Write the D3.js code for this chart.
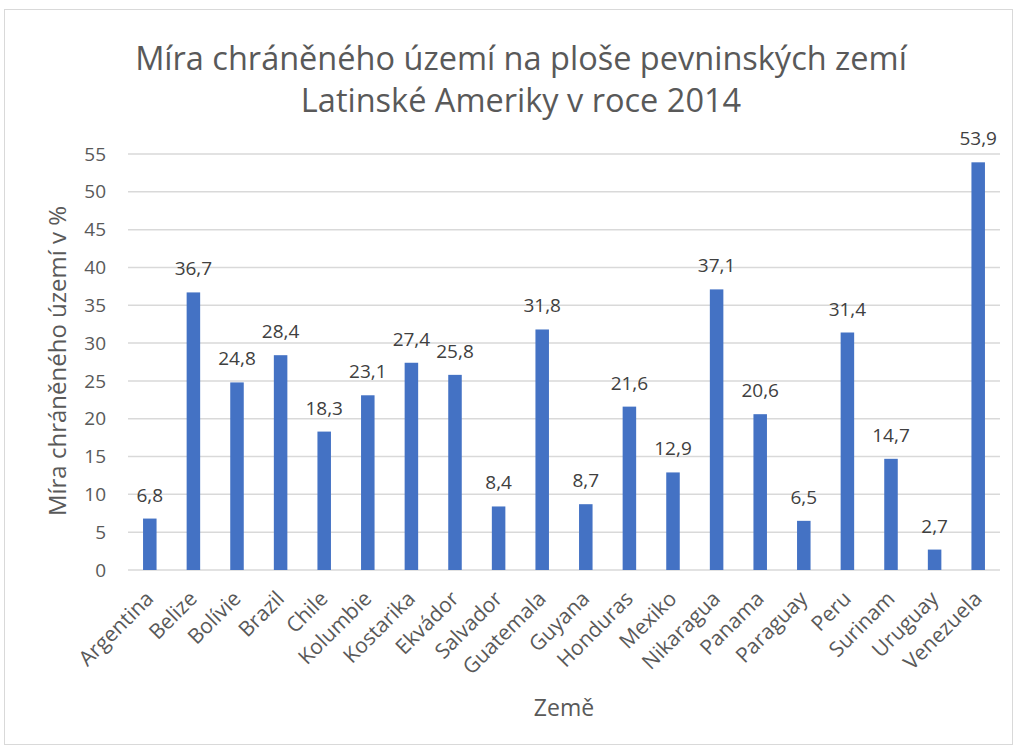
<!DOCTYPE html>
<html><head><meta charset="utf-8">
<script src="https://cdn.jsdelivr.net/npm/d3@7"></script>
<style>body{margin:0;background:#fff;} svg{display:block;font-family:"Open Sans","Noto Sans",sans-serif;}</style>
</head><body>
<script>
const categories = ["Argentina","Belize","Bolívie","Brazil","Chile","Kolumbie","Kostarika","Ekvádor","Salvador","Guatemala","Guyana","Honduras","Mexiko","Nikaragua","Panama","Paraguay","Peru","Surinam","Uruguay","Venezuela"];
const values = [6.8,36.7,24.8,28.4,18.3,23.1,27.4,25.8,8.4,31.8,8.7,21.6,12.9,37.1,20.6,6.5,31.4,14.7,2.7,53.9];
const yTicks = [0,5,10,15,20,25,30,35,40,45,50,55];
const titleLines = ["Míra chráněného území na ploše pevninských zemí","Latinské Ameriky v roce 2014"];
const xTitle = "Země";
const yTitle = "Míra chráněného území v %";

const W = 1017, H = 749;
const m = {left:128, right:17, top:154, bottom:179};
const svg = d3.select("body").append("svg").attr("width",W).attr("height",H);
svg.append("rect").attr("x",4.5).attr("y",9.5).attr("width",W-9).attr("height",H-14)
  .attr("fill","#fff").attr("stroke","#d9d9d9");

const x = d3.scaleBand().domain(categories).range([m.left, W-m.right]).paddingInner(0.69).paddingOuter(0.345);
const y = d3.scaleLinear().domain([0,55]).range([H-m.bottom, m.top]);
const txt = "#595959";
const ff = "'Open Sans','Noto Sans',sans-serif";

// gridlines
svg.append("g").selectAll("line").data(yTicks).join("line")
  .attr("x1",m.left).attr("x2",W-m.right)
  .attr("y1",d=>y(d)).attr("y2",d=>y(d))
  .attr("stroke","#d9d9d9").attr("stroke-width",1.5);

// y tick labels
const ya = svg.append("g").attr("transform",`translate(${m.left},0)`)
  .call(d3.axisLeft(y).tickValues(yTicks).tickSize(0).tickPadding(22));
ya.select(".domain").remove();
ya.selectAll("text").attr("fill",txt).style("font-size","19px").style("font-family",ff);

// bars
svg.append("g").selectAll("rect").data(values).join("rect")
  .attr("x",(d,i)=>x(categories[i])).attr("width",x.bandwidth())
  .attr("y",d=>y(d)).attr("height",d=>y(0)-y(d))
  .attr("fill","#4472c4");

// data labels
svg.append("g").selectAll("text").data(values).join("text")
  .attr("x",(d,i)=>x(categories[i])+x.bandwidth()/2)
  .attr("y",d=>y(d)-17)
  .attr("text-anchor","middle").attr("fill","#404040").style("font-size","19px")
  .text(d=>String(d).replace(".",","));

// x axis labels
const xa = svg.append("g").attr("transform",`translate(0,${H-m.bottom})`)
  .call(d3.axisBottom(x).tickSize(0).tickPadding(0));
xa.select(".domain").remove();
xa.selectAll("text").attr("fill",txt).style("font-size","21px").style("font-family",ff)
  .attr("text-anchor","end").attr("dy",null)
  .attr("transform","translate(5,30) rotate(-45)");

// titles
svg.append("g").selectAll("text").data(titleLines).join("text")
  .attr("x",521).attr("y",(d,i)=>70+i*42)
  .attr("text-anchor","middle").attr("fill",txt).style("font-size","32.5px")
  .text(d=>d);
svg.append("text").attr("x",564).attr("y",716).attr("text-anchor","middle")
  .attr("fill",txt).style("font-size","23px").text(xTitle);
svg.append("text").attr("transform",`translate(66,361) rotate(-90)`)
  .attr("text-anchor","middle").attr("fill",txt).style("font-size","24px").text(yTitle);
</script>
</body></html>
